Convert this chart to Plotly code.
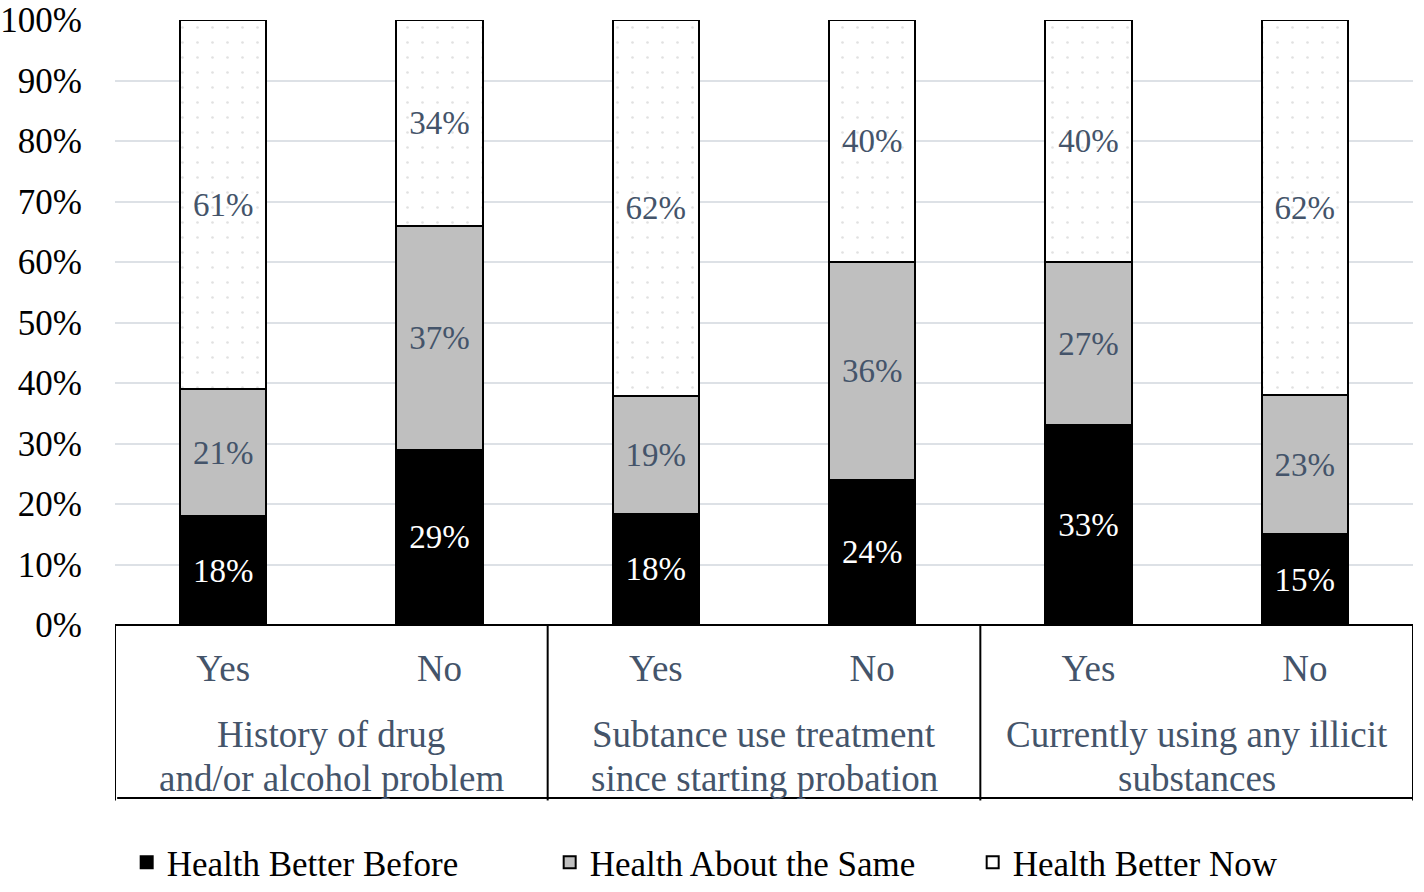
import plotly.graph_objects as go

answers = ["Yes", "No", "Yes", "No", "Yes", "No"]
groups = [["History of drug", "and/or alcohol problem"],
          ["Subtance use treatment", "since starting probation"],
          ["Currently using any illicit", "substances"]]
better_before = [18, 29, 18.4, 24, 33, 15]
about_same = [21, 37, 19.4, 36, 27, 23]
better_now = [61, 34, 62.2, 40, 40, 62]
y_ticks = [0, 10, 20, 30, 40, 50, 60, 70, 80, 90, 100]

FONT = "Liberation Serif"
SLATE = "#44546A"
xpos = list(range(len(answers)))

def bar(vals, name, color, txtcolor, pattern=None):
    m = dict(color=color, line=dict(color="black", width=2))
    if pattern:
        m["pattern"] = pattern
    return go.Bar(
        x=xpos, y=vals, name=name, width=0.4, marker=m,
        texttemplate="%{y:.0f}%", textposition="inside", insidetextanchor="middle",
        textangle=0, constraintext="none",
        textfont=dict(family=FONT, size=33, color=txtcolor),
    )

fig = go.Figure()
fig.add_trace(bar(better_before, "Health Better Before", "black", "white"))
fig.add_trace(bar(about_same, "Health About the Same", "#BFBFBF", SLATE))
fig.add_trace(bar(better_now, "Health Better Now", "white", SLATE,
                  dict(shape=".", fgcolor="#C4C4C4", bgcolor="white",
                       size=15, solidity=0.025)))

# category box lines
line_style = dict(color="black", width=2)
fig.add_shape(type="line", xref="x", yref="paper", x0=-0.5, x1=5.5, y0=0, y1=0, line=line_style)
fig.add_shape(type="line", xref="x", yref="paper", x0=-0.49, x1=5.5, y0=-0.286, y1=-0.286, line=line_style)
for xv in [-0.5, 1.5, 3.5, 5.5]:
    fig.add_shape(type="line", xref="x", yref="paper", x0=xv, x1=xv, y0=0, y1=-0.29, line=line_style)

line_y = [-0.1818, -0.2529]
for i, g in enumerate(groups):
    for j, ln in enumerate(g):
        fig.add_annotation(x=2 * i + 0.5, y=line_y[j], xref="x", yref="paper", text=ln,
                           showarrow=False, yanchor="middle", xanchor="center",
                           font=dict(family=FONT, size=37, color=SLATE))

fig.update_layout(
    width=1424, height=892,
    margin=dict(l=115, r=11, t=20, b=267, autoexpand=False),
    barmode="stack", plot_bgcolor="white", paper_bgcolor="white",
    font=dict(family=FONT, size=34, color="black"),
    showlegend=True,
    legend=dict(orientation="h", x=0.009, xanchor="left", y=-0.4413, yanchor="bottom",
                font=dict(family=FONT, size=35, color="black"),
                traceorder="normal", entrywidth=378, entrywidthmode="pixels",
                itemwidth=30),
    xaxis=dict(range=[-0.5, 5.5], tickmode="array", tickvals=xpos, ticktext=answers,
               showgrid=False, zeroline=False, showline=False, ticks="",
               automargin=False,
               tickfont=dict(family=FONT, size=37, color=SLATE),
               ticklabelstandoff=18),
    yaxis=dict(range=[0, 100], tickmode="array", tickvals=y_ticks,
               ticktext=[f"{v}%" for v in y_ticks],
               showgrid=True, gridcolor="#DDE1E6", gridwidth=2, zeroline=False,
               showline=False, ticks="", ticklabelstandoff=32, automargin=False,
               tickfont=dict(family=FONT, size=35, color="black")),
)

fig.write_html("out.html", config={"displayModeBar": False},
               post_script="document.body.style.margin='0';document.body.style.overflow='hidden';")
